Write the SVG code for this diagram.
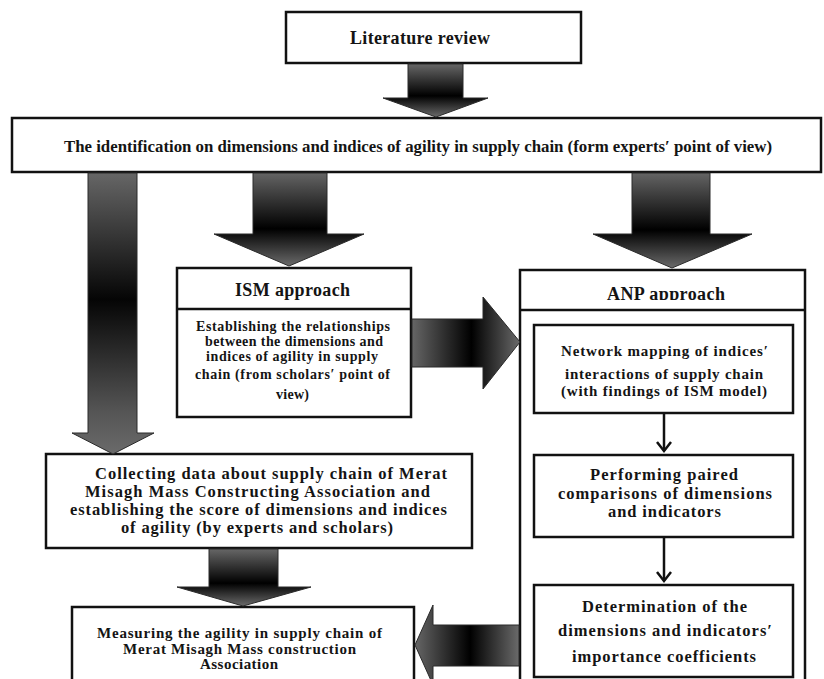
<svg xmlns="http://www.w3.org/2000/svg" width="824" height="679" viewBox="0 0 824 679">
<style>
.box{fill:#fff;stroke:#111;stroke-width:2.5}
.t{font-family:"Liberation Serif","Times New Roman",serif;font-weight:bold;fill:#141414}
.h{font-size:18px}
.b{font-size:14px}
.m{font-size:15px}
.c{font-size:16.5px}
.arr{stroke:#2a2a2a;stroke-width:1}
.con{fill:none;stroke:#111;stroke-width:2.5}
.chev{fill:none;stroke:#111;stroke-width:2.5;stroke-linejoin:miter}
</style>
<defs>
<linearGradient id="gLit" x1="0" y1="0" x2="0" y2="1">
<stop offset="0" stop-color="#666"/><stop offset="0.6" stop-color="#000"/><stop offset="1" stop-color="#6a6a6a"/>
</linearGradient>
<linearGradient id="gTall" x1="0" y1="0" x2="0" y2="1">
<stop offset="0" stop-color="#666"/><stop offset="0.45" stop-color="#050505"/><stop offset="0.85" stop-color="#555"/><stop offset="1" stop-color="#6a6a6a"/>
</linearGradient>
<linearGradient id="gMid" x1="0" y1="0" x2="0" y2="1">
<stop offset="0" stop-color="#646464"/><stop offset="0.6" stop-color="#000"/><stop offset="1" stop-color="#6a6a6a"/>
</linearGradient>
<linearGradient id="gH" x1="0" y1="0" x2="1" y2="0">
<stop offset="0" stop-color="#666"/><stop offset="0.55" stop-color="#000"/><stop offset="1" stop-color="#6a6a6a"/>
</linearGradient>
<linearGradient id="gL" x1="1" y1="0" x2="0" y2="0">
<stop offset="0" stop-color="#6a6a6a"/><stop offset="0.47" stop-color="#000"/><stop offset="1" stop-color="#666"/>
</linearGradient>
<clipPath id="anpClip"><rect x="520" y="270" width="285" height="30"/></clipPath>
</defs>

<g id="literature">
<rect class="box" x="286" y="12" width="295" height="51"/>
<text class="t h" x="350" y="44" textLength="140" lengthAdjust="spacing">Literature review</text>
</g>

<g id="identification">
<rect class="box" x="12" y="118" width="809" height="54"/>
<text class="t c" x="64" y="152" textLength="708" lengthAdjust="spacingAndGlyphs">The identification on dimensions and indices of agility in supply chain (form experts′ point of view)</text>
</g>

<g id="ism">
<rect class="box" x="177" y="268" width="234" height="149"/>
<line class="con" x1="177" y1="309" x2="411" y2="309"/>
<text class="t h" x="235" y="296" textLength="115" lengthAdjust="spacing">ISM approach</text>
<text class="t b" x="196" y="331" textLength="194" lengthAdjust="spacing">Establishing the relationships</text>
<text class="t b" x="205" y="346" textLength="178" lengthAdjust="spacing">between the dimensions and</text>
<text class="t b" x="206" y="361" textLength="172" lengthAdjust="spacing">indices of agility in supply</text>
<text class="t b" x="195" y="379" textLength="195" lengthAdjust="spacing">chain (from scholars′ point of</text>
<text class="t b" x="276" y="399" textLength="33" lengthAdjust="spacing">view)</text>
</g>

<g id="anp">
<rect class="box" x="520" y="270" width="285" height="420"/>
<line class="con" x1="520" y1="310" x2="805" y2="310"/>
<text class="t h" x="607" y="300" textLength="118" lengthAdjust="spacing" clip-path="url(#anpClip)">ANP approach</text>
</g>

<g id="network">
<rect class="box" x="534" y="325" width="259" height="88"/>
<text class="t m" x="561" y="356" textLength="207" lengthAdjust="spacing">Network mapping of indices′</text>
<text class="t m" x="565" y="379" textLength="198" lengthAdjust="spacing">interactions of supply chain</text>
<text class="t m" x="561" y="396" textLength="206" lengthAdjust="spacing">(with findings of ISM model)</text>
</g>

<g id="paired">
<rect class="box" x="534" y="455" width="259" height="82"/>
<text class="t c" x="590" y="480" textLength="148" lengthAdjust="spacing">Performing paired</text>
<text class="t c" x="558" y="499" textLength="214" lengthAdjust="spacing">comparisons of dimensions</text>
<text class="t c" x="608" y="517" textLength="113" lengthAdjust="spacing">and indicators</text>
</g>

<g id="determination">
<rect class="box" x="534" y="585" width="259" height="92"/>
<text class="t c" x="582" y="612" textLength="165" lengthAdjust="spacing">Determination of the</text>
<text class="t c" x="558" y="636" textLength="214" lengthAdjust="spacing">dimensions and indicators′</text>
<text class="t c" x="572" y="662" textLength="184" lengthAdjust="spacing">importance coefficients</text>
</g>

<g id="collecting">
<rect class="box" x="46" y="454" width="426" height="94"/>
<text class="t c" x="95" y="479" textLength="352" lengthAdjust="spacing">Collecting data about supply chain of Merat</text>
<text class="t c" x="85" y="497" textLength="345" lengthAdjust="spacing">Misagh Mass Constructing Association and</text>
<text class="t c" x="70" y="515" textLength="377" lengthAdjust="spacing">establishing the score of dimensions and indices</text>
<text class="t c" x="121" y="533" textLength="272" lengthAdjust="spacing">of agility (by experts and scholars)</text>
</g>

<g id="measuring">
<rect class="box" x="72" y="607" width="342" height="90"/>
<text class="t m" x="97" y="638" textLength="285" lengthAdjust="spacing">Measuring  the agility in supply chain of</text>
<text class="t m" x="123" y="654" textLength="233" lengthAdjust="spacing">Merat Misagh Mass  construction</text>
<text class="t m" x="200" y="669" textLength="78" lengthAdjust="spacing">Association</text>
</g>

<g id="connectors">
<polygon class="arr" fill="url(#gLit)" points="408,64 463,64 463,98 488,98 436,117 383,98 408,98"/>
<polygon class="arr" fill="url(#gTall)" points="88,173 137,173 137,433 154,433 113,454 72,433 88,433"/>
<polygon class="arr" fill="url(#gMid)" points="253,173 327,173 327,234 364,234 289,266 214,234 253,234"/>
<polygon class="arr" fill="url(#gMid)" points="632,173 710,173 710,234 752,234 672,268 593,234 632,234"/>
<polygon class="arr" fill="url(#gH)" points="412,319 483,319 483,297 520,342 483,389 483,367 412,367"/>
<polygon class="arr" fill="url(#gLit)" points="209,549 278,549 278,587 311,587 243,606 177,587 209,587"/>
<polygon class="arr" fill="url(#gL)" points="519,625 433,625 433,605 415,645 433,685 433,666 519,666"/>
<line class="con" x1="664" y1="414" x2="664" y2="451"/>
<path class="chev" d="M657,442 L664,451 L671,442"/>
<line class="con" x1="664" y1="538" x2="664" y2="581"/>
<path class="chev" d="M657,572 L664,581 L671,572"/>
</g>
</svg>
